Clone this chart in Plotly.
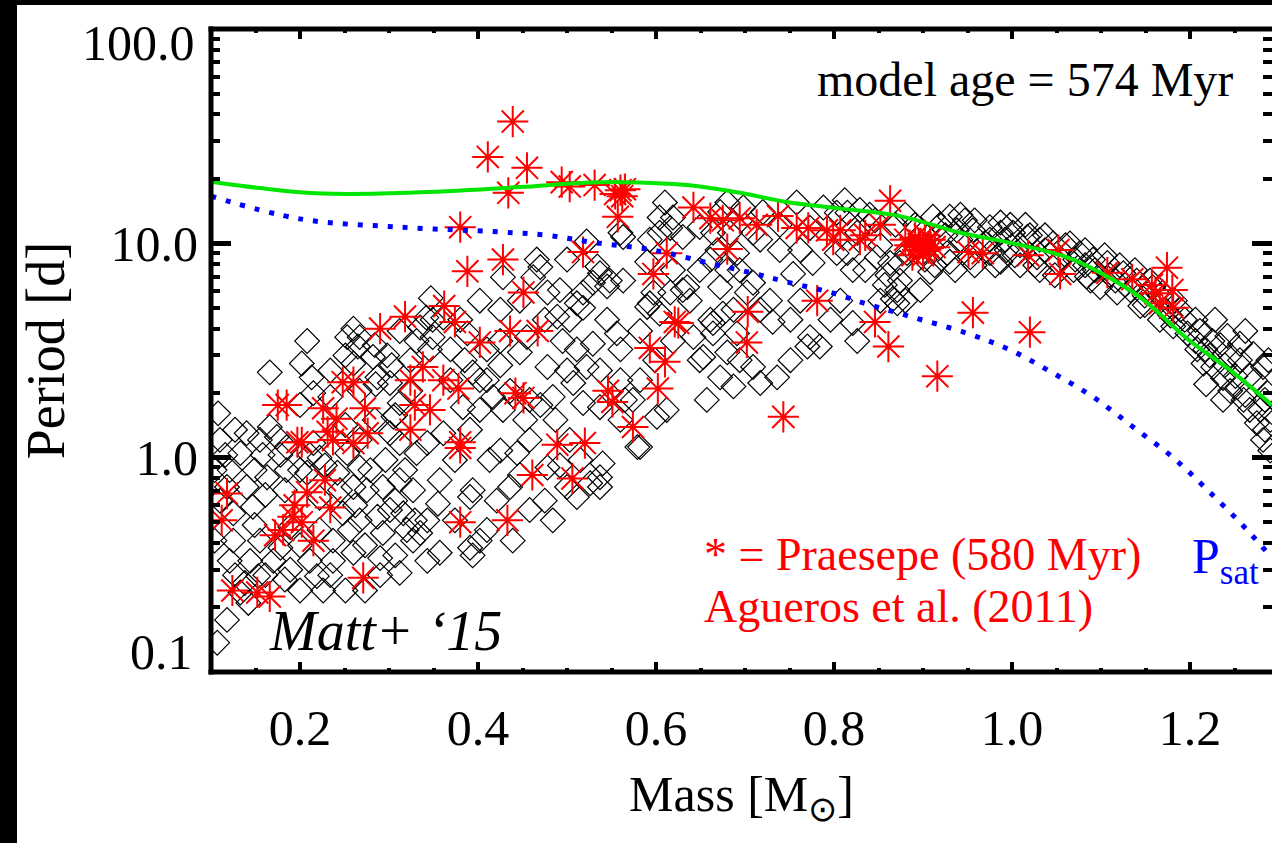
import plotly.graph_objects as go

# ---- model: rotation periods of the synthetic population (black diamonds) ----
model_mass = [
    0.208, 0.166, 0.202, 0.213, 0.253, 0.265, 0.298, 0.303, 0.287, 0.301, 0.324, 0.331, 0.26, 0.215, 0.2,
    0.234, 0.108, 0.14, 0.133, 0.11, 0.166, 0.174, 0.185, 0.215, 0.222, 0.253, 0.267, 0.312, 0.318, 0.331,
    0.301, 0.118, 0.14, 0.163, 0.185, 0.208, 0.222, 0.242, 0.26, 0.275, 0.293, 0.312, 0.327, 0.125, 0.147,
    0.125, 0.121, 0.155, 0.178, 0.17, 0.189, 0.222, 0.237, 0.248, 0.267, 0.287, 0.301, 0.316, 0.32, 0.293,
    0.335, 0.237, 0.26, 0.29, 0.312, 0.219, 0.226, 0.133, 0.327, 0.118, 0.107, 0.138, 0.153, 0.142, 0.2,
    0.189, 0.104, 0.121, 0.158, 0.267, 0.282, 0.285, 0.335, 0.342, 0.349, 0.361, 0.312, 0.305, 0.26, 0.347,
    0.349, 0.369, 0.346, 0.388, 0.41, 0.425, 0.447, 0.455, 0.489, 0.503, 0.518, 0.545, 0.556, 0.529, 0.511,
    0.495, 0.478, 0.5, 0.522, 0.537, 0.56, 0.574, 0.582, 0.537, 0.518, 0.507, 0.484, 0.458, 0.458, 0.428,
    0.41, 0.394, 0.417, 0.402, 0.383, 0.361, 0.343, 0.413, 0.444, 0.478, 0.5, 0.511, 0.537, 0.537, 0.526,
    0.54, 0.421, 0.391, 0.394, 0.355, 0.343, 0.436, 0.484, 0.439, 0.41, 0.391, 0.394, 0.357, 0.343, 0.604,
    0.593, 0.619, 0.642, 0.653, 0.661, 0.664, 0.675, 0.691, 0.68, 0.672, 0.657, 0.687, 0.709, 0.717, 0.736,
    0.731, 0.717, 0.773, 0.784, 0.77, 0.612, 0.601, 0.579, 0.61, 0.604, 0.616, 0.593, 0.59, 0.619, 0.63,
    0.597, 0.56, 0.563, 0.545, 0.529, 0.534, 0.522, 0.5, 0.466, 0.462, 0.478, 0.492, 0.518, 0.428, 0.672,
    0.683, 0.664, 0.698, 0.709, 0.72, 0.758, 0.762, 0.754, 0.776, 0.773, 0.788, 0.803, 0.803, 0.709, 0.702,
    0.672, 0.661, 0.635, 0.691, 0.619, 0.604, 0.563, 0.47, 0.537, 0.548, 0.511, 0.59, 0.616, 0.63, 0.649,
    0.669, 0.68, 0.687, 0.664, 0.68, 0.815, 0.826, 0.815, 0.821, 0.863, 0.874, 0.871, 0.848, 0.911, 0.93,
    0.938, 0.956, 0.975, 0.987, 1.001, 1.017, 1.031, 1.046, 1.065, 1.076, 1.091, 1.107, 1.125, 1.14, 1.158,
    1.174, 0.927, 0.953, 0.975, 0.994, 1.028, 1.051, 1.069, 1.084, 1.099, 1.118, 0.908, 0.897, 0.882, 0.9,
    0.821, 0.826, 0.871, 1.144, 1.166, 1.181, 1.197, 1.208, 1.215, 1.226, 1.237, 1.253, 1.26, 1.267, 1.275,
    1.282, 1.29, 1.256, 1.271, 1.282, 1.287, 1.225, 1.218, 1.237, 0.942, 0.97, 1.009, 1.037, 1.06, 1.082,
    1.11, 1.127, 1.149, 1.189, 1.206, 1.245, 1.267, 1.284, 1.29, 1.228, 1.242, 1.262, 0.919, 0.987, 0.84,
    0.852, 0.835, 0.857, 0.866, 0.852, 0.812, 0.829, 0.846, 0.869, 0.88, 0.942, 0.958, 0.998, 1.02, 0.987,
    1.009, 0.93, 0.913, 1.031, 0.874, 0.86, 0.88,
    # slow-rotator sequence, 0.9 - 1.3 Msun
    0.891, 0.902, 0.925, 0.936, 0.947, 0.958, 0.975, 0.981, 0.992, 1.003, 1.015, 1.026, 1.037, 1.048, 1.06,
    1.071, 1.082, 1.088, 1.093, 1.104, 1.116, 1.121, 1.133, 1.138, 1.149, 1.155, 1.166, 1.172, 1.178, 1.183,
    1.194, 1.206, 1.211, 1.217, 1.222, 1.234, 1.239, 1.251, 1.256, 1.262, 1.273, 1.279, 1.284, 1.288, 1.245,
    # fast rotators, low masses
    0.116, 0.127, 0.149, 0.161, 0.183, 0.2, 0.211, 0.228, 0.245, 0.262, 0.279, 0.296, 0.307, 0.256, 0.273,
    0.2, 0.211, 0.144, 0.161, 0.127, 0.183, 0.104, 0.11, 0.149, 0.234, 0.251, 0.273, 0.29, 0.307, 0.329,
    0.155, 0.178, 0.251, 0.267, 0.284, 0.307, 0.234, 0.251, 0.267, 0.284, 0.312, 0.324,
    # intermediate masses
    0.369, 0.385, 0.402, 0.425, 0.436, 0.453, 0.47, 0.487, 0.503, 0.492, 0.447, 0.425, 0.391, 0.374, 0.357,
    0.374, 0.402, 0.458, 0.475, 0.515, 0.56, 0.565, 0.582, 0.599, 0.56, 0.582, 0.425, 0.447, 0.475, 0.38,
    0.402, 0.638, 0.649, 0.694, 0.728, 0.751, 0.762, 0.796, 0.807, 0.739, 0.717, 0.739, 0.649, 0.694, 0.751,
]
model_period = [
    3.5, 2.5, 2.75, 2.37, 3.65, 3.3, 3.0, 2.7, 2.37, 2.23, 2.85, 3.5, 4.0, 2.0, 1.76,
    1.92, 1.61, 1.3, 1.05, 1.21, 1.39, 1.25, 1.12, 1.17, 1.0, 1.05, 0.9, 1.17, 0.875, 1.05,
    1.3, 0.73, 0.73, 0.81, 0.875, 0.85, 0.65, 0.85, 0.73, 0.705, 0.73, 0.785, 0.705, 0.55, 0.59,
    0.41, 0.33, 0.41, 0.38, 0.33, 0.475, 0.46, 0.41, 0.55, 0.51, 0.53, 0.57, 0.55, 0.46, 0.445,
    0.445, 0.33, 0.36, 0.34, 0.29, 0.28, 0.24, 0.235, 0.41, 0.175, 0.137, 0.26, 0.28, 0.21, 0.24,
    0.3, 0.875, 0.875, 1.03, 3.65, 2.95, 2.2, 4.05, 4.5, 3.65, 4.5, 1.8, 1.55, 2.75, 5.55,
    4.4, 3.2, 3.2, 3.8, 3.2, 3.5, 3.1, 3.65, 4.55, 4.4, 5.0, 4.4, 3.8, 3.4, 3.2,
    3.5, 2.65, 2.55, 2.65, 2.55, 2.3, 1.86, 1.12, 1.72, 1.8, 2.23, 1.92, 1.86, 1.21, 1.67,
    2.3, 2.5, 1.92, 1.67, 1.72, 1.3, 1.17, 0.975, 1.05, 0.9, 0.73, 0.655, 0.81, 0.73, 0.76,
    0.94, 0.63, 0.655, 0.705, 0.61, 0.51, 0.73, 0.51, 0.41, 0.46, 0.38, 0.35, 0.36, 0.33, 4.7,
    5.25, 3.5, 3.65, 2.95, 4.4, 3.8, 4.7, 3.8, 3.1, 2.37, 1.86, 2.15, 2.65, 2.23, 2.37,
    4.3, 4.9, 3.65, 3.3, 3.3, 1.67, 1.55, 1.12, 15.5, 13.2, 11.8, 10.4, 8.2, 7.5, 6.05,
    5.9, 11.2, 6.7, 6.3, 6.55, 7.8, 10.2, 8.4, 8.4, 6.95, 5.9, 6.05, 5.9, 6.95, 14.0,
    11.2, 11.2, 14.7, 11.2, 14.0, 15.5, 9.3, 7.2, 8.1, 11.8, 14.7, 13.9, 9.0, 6.55, 5.9,
    6.25, 8.4, 6.25, 9.0, 13.2, 11.2, 10.7, 7.75, 7.25, 6.7, 5.25, 5.05, 5.9, 10.7, 11.9,
    9.3, 7.5, 4.9, 4.25, 15.5, 13.9, 11.2, 9.0, 7.5, 8.1, 6.7, 6.05, 8.6, 13.3, 13.3,
    11.5, 11.5, 11.9, 11.2, 11.2, 10.7, 10.4, 10.0, 10.0, 9.0, 8.4, 8.1, 7.25, 6.7, 6.25,
    5.6, 9.0, 8.6, 9.0, 9.3, 8.6, 8.1, 7.5, 7.0, 6.25, 5.9, 7.35, 6.05, 9.0, 11.2,
    4.25, 3.5, 5.25, 5.1, 4.4, 4.1, 3.8, 3.2, 2.75, 2.65, 2.35, 2.13, 1.86, 1.67, 1.45,
    1.21, 1.08, 3.4, 3.05, 2.65, 2.0, 3.5, 2.2, 1.86, 10.4, 10.0, 9.8, 9.3, 8.8, 7.9,
    7.1, 6.4, 5.7, 4.9, 4.4, 3.0, 2.4, 1.86, 1.5, 4.4, 3.7, 3.9, 12.2, 12.5, 13.6,
    9.8, 7.5, 6.4, 5.5, 5.4, 15.9, 14.3, 12.8, 12.2, 13.6, 13.6, 12.8, 12.2, 10.9, 8.2,
    7.9, 8.2, 7.9, 7.5, 8.1, 7.1, 5.4,
    # slow-rotator sequence, 0.9 - 1.3 Msun
    12.2, 8.4, 10.9, 7.5, 12.8, 7.9, 10.4, 7.9, 10.4, 8.8, 12.2, 7.9, 10.9, 7.1, 9.8,
    8.4, 9.3, 6.7, 7.5, 8.8, 6.7, 7.9, 6.05, 7.5, 5.15, 6.7, 5.7, 4.9, 4.6, 5.4,
    4.4, 3.5, 3.9, 3.2, 3.0, 3.35, 2.7, 2.4, 2.85, 1.96, 2.3, 1.67, 1.35, 2.85, 2.05,
    # fast rotators, low masses
    1.03, 1.35, 0.875, 0.67, 0.705, 0.875, 1.03, 0.92, 0.705, 0.6, 0.875, 0.975, 0.63, 0.46, 0.39,
    0.39, 0.33, 0.33, 0.283, 0.283, 0.27, 0.41, 0.63, 0.485, 0.283, 0.24, 0.24, 0.283, 0.35, 0.51,
    1.21, 1.03, 1.42, 1.21, 1.5, 1.58, 2.55, 3.0, 2.05, 3.35, 3.9, 2.05,
    # intermediate masses
    2.3, 2.85, 2.3, 2.7, 2.05, 1.5, 1.76, 1.5, 1.21, 0.92, 0.83, 1.08, 1.35, 0.975, 0.785,
    0.51, 0.41, 0.57, 0.63, 0.975, 1.5, 1.86, 2.3, 2.85, 3.2, 3.9, 4.9, 5.4, 4.4, 4.4,
    5.4, 5.4, 7.5, 7.5, 5.4, 4.4, 5.4, 4.4, 5.4, 9.3, 10.4, 12.2, 2.85, 2.85, 2.85,
]

# ---- Praesepe rotation periods, Agueros et al. (2011) (red asterisks) ----
praesepe_mass = [
    0.112, 0.118, 0.124, 0.166, 0.152, 0.172, 0.175, 0.185, 0.181, 0.194, 0.197, 0.202, 0.208, 0.192,
    0.202, 0.215, 0.228, 0.234, 0.226, 0.231, 0.237, 0.241, 0.248, 0.26, 0.26, 0.271, 0.273, 0.276,
    0.29, 0.318, 0.324, 0.324, 0.329, 0.338, 0.346,
    0.439, 0.411, 0.455, 0.434, 0.494, 0.503, 0.531, 0.56, 0.562, 0.554, 0.565, 0.557, 0.38, 0.388,
    0.428, 0.451, 0.518, 0.597, 0.612, 0.642, 0.661, 0.675, 0.694, 0.713, 0.737, 0.758, 0.771, 0.792,
    0.799, 0.68, 0.781, 0.362, 0.374, 0.402, 0.436, 0.467, 0.361, 0.378, 0.38, 0.38, 0.442, 0.451,
    0.546, 0.551, 0.574, 0.489, 0.52, 0.461, 0.506, 0.38, 0.433, 0.621, 0.625, 0.593, 0.61, 0.602,
    0.703, 0.702, 0.743,
    0.863, 0.835, 0.807, 0.88, 0.885, 0.891, 0.894, 0.897, 0.9, 0.902, 0.906, 0.888, 0.908, 0.913,
    0.9, 0.895, 0.951, 0.967, 1.018, 1.052, 1.054, 1.107, 1.135, 1.157, 1.174, 1.18, 1.161, 1.166,
    1.181, 0.846, 0.861, 0.956, 1.02, 0.916, 0.852, 0.829,
]
praesepe_period = [
    0.51, 0.68, 0.24, 0.225, 0.235, 0.435, 1.76, 1.76, 0.46, 0.6, 1.18, 1.18, 0.69, 0.53,
    0.5, 0.41, 0.785, 0.585, 1.7, 1.32, 1.21, 1.52, 2.25, 2.25, 1.17, 0.275, 1.7, 1.3,
    4.0, 4.55, 1.35, 2.3, 1.76, 2.65, 1.67,
    37.0, 25.3, 22.5, 17.2, 19.3, 18.4, 18.7, 17.7, 16.6, 17.0, 17.9, 13.3, 11.9, 7.4,
    8.4, 5.9, 9.1, 7.2, 9.0, 14.7, 13.1, 12.8, 13.1, 12.2, 13.4, 11.8, 11.8, 11.5,
    10.4, 9.4, 5.4, 5.1, 4.3, 3.45, 3.9, 3.9, 2.3, 2.1, 1.18, 1.11, 2.0, 1.9,
    2.05, 1.82, 1.39, 1.15, 1.17, 0.83, 0.8, 0.5, 0.51, 4.3, 4.25, 3.25, 2.8, 2.1,
    4.8, 3.45, 1.55,
    15.8, 10.9, 11.5, 10.4, 9.8, 10.6, 9.3, 10.0, 8.8, 10.9, 9.5, 8.8, 10.4, 9.6,
    9.2, 9.9, 9.1, 9.0, 8.8, 9.3, 7.2, 7.3, 6.8, 6.4, 7.7, 6.05, 5.85, 5.25,
    5.0, 4.3, 3.3, 4.75, 3.85, 2.4, 12.2, 10.4,
]

# ---- slow-rotator envelope of the model (green) ----
upper_mass = [0.1, 0.155, 0.2, 0.253, 0.335, 0.447, 0.515, 0.56, 0.635, 0.691, 0.747, 0.803,
              0.874, 0.942, 1.001, 1.062, 1.099, 1.144, 1.2, 1.245, 1.292]
upper_period = [19.4, 18.1, 17.3, 17.0, 17.3, 18.3, 19.1, 19.3, 18.7, 17.3, 15.6, 14.6,
                13.4, 11.2, 10.0, 8.6, 7.3, 5.6, 3.5, 2.56, 1.76]

# ---- saturation period P_sat (blue dots) ----
sat_mass = [0.1, 0.2, 0.312, 0.425, 0.478, 0.529, 0.597, 0.664, 0.709, 0.747, 0.799, 0.831,
            0.882, 0.949, 0.998, 1.046, 1.091, 1.136, 1.181, 1.222, 1.264, 1.292]
sat_period = [16.6, 13.0, 11.9, 11.3, 10.9, 10.1, 9.3, 8.0, 7.25, 6.6, 5.86, 5.3,
              4.6, 3.81, 3.18, 2.48, 1.92, 1.39, 1.0, 0.69, 0.46, 0.34]

mass_ticks = [0.2, 0.4, 0.6, 0.8, 1.0, 1.2]
mass_labels = ["0.2", "0.4", "0.6", "0.8", "1.0", "1.2"]
mass_minor = [0.15, 0.25, 0.3, 0.35, 0.45, 0.5, 0.55, 0.65, 0.7, 0.75, 0.85, 0.9, 0.95,
              1.05, 1.1, 1.15, 1.25]
period_ticks = [1.0, 10.0]
period_labels = ["1.0", "10.0"]
period_edge_labels = ["100.0", "0.1"]
period_minor = [0.2, 0.3, 0.4, 0.5, 0.6, 0.7, 0.8, 0.9, 2, 3, 4, 5, 6, 7, 8, 9,
                20, 30, 40, 50, 60, 70, 80, 90]

SERIF = "Liberation Serif, Times New Roman, serif"
W, H = 1272, 843
L, R, T, B = 211, 0, 29, 171
PW, PH = W - L - R, H - T - B


def px_x(px):
    return (px - L) / PW


def px_y(py):
    return (H - B - py) / PH


fig = go.Figure()

fig.add_trace(go.Scatter(
    x=model_mass, y=model_period, mode="markers",
    marker=dict(symbol="diamond-open", size=19, color="black", line=dict(width=1.2, color="black")),
    showlegend=False, hoverinfo="skip"))

fig.add_trace(go.Scatter(
    x=praesepe_mass, y=praesepe_period, mode="markers",
    marker=dict(symbol="asterisk-open", size=26, color="#ff0000", line=dict(width=2, color="#ff0000")),
    showlegend=False, hoverinfo="skip"))

fig.add_trace(go.Scatter(
    x=upper_mass, y=upper_period, mode="lines", line_shape="spline",
    line=dict(color="#00e600", width=4), showlegend=False, hoverinfo="skip"))

fig.add_trace(go.Scatter(
    x=sat_mass, y=sat_period, mode="lines", line_shape="spline",
    line=dict(color="#0000ff", width=5, dash="5px,10px"), showlegend=False, hoverinfo="skip"))

axis_common = dict(
    showgrid=False, zeroline=False, showline=False, mirror="ticks",
    ticks="inside", tickcolor="black", layer="above traces",
)

fig.update_xaxes(
    **axis_common,
    range=[0.1, 1.292], tickmode="array", tickvals=mass_ticks, ticktext=mass_labels,
    ticklen=10, tickwidth=4, ticklabelstandoff=22,
    tickfont=dict(family=SERIF, size=50, color="black"),
    minor=dict(tickmode="array", tickvals=mass_minor, ticks="inside", ticklen=4, tickwidth=4,
               tickcolor="black", showgrid=False),
    title=dict(text="Mass [M<sub>⊙</sub>]", font=dict(family=SERIF, size=50, color="black"), standoff=20),
)

fig.update_yaxes(
    **axis_common,
    type="log", range=[-1, 2], tickmode="array", tickvals=period_ticks, ticktext=period_labels,
    ticklen=20, tickwidth=5, ticklabelstandoff=12,
    tickfont=dict(family=SERIF, size=50, color="black"),
    minor=dict(tickmode="array", tickvals=period_minor, ticks="inside", ticklen=9, tickwidth=4,
               tickcolor="black", showgrid=False),
    title=dict(text="Period [d]", font=dict(family=SERIF, size=54, color="black"), standoff=28),
)

shapes = [
    # black frame bands on the left and top edges of the page
    dict(type="rect", xref="paper", yref="paper", x0=px_x(0), x1=px_x(17), y0=px_y(H), y1=px_y(0),
         fillcolor="black", line=dict(width=0), layer="below"),
    dict(type="rect", xref="paper", yref="paper", x0=px_x(0), x1=px_x(W), y0=px_y(5), y1=px_y(0),
         fillcolor="black", line=dict(width=0), layer="below"),
    # plot box: left, top and bottom edges
    dict(type="line", xref="paper", yref="paper", x0=0, x1=0, y0=px_y(H - B + 2.5), y1=px_y(T - 2.5),
         line=dict(color="black", width=5)),
    dict(type="line", xref="paper", yref="paper", x0=px_x(L - 2.5), x1=1, y0=1, y1=1,
         line=dict(color="black", width=5)),
    dict(type="line", xref="paper", yref="paper", x0=px_x(L - 2.5), x1=1, y0=0, y1=0,
         line=dict(color="black", width=5)),
    # blank page corner below the plot, right of the tick labels
    dict(type="rect", xref="paper", yref="paper", x0=px_x(1240), x1=px_x(W + 20), y0=px_y(H + 10),
         y1=px_y(H - B + 6), fillcolor="white", line=dict(width=0), layer="above"),
]

annotations = [
    # end labels of the period axis sit just inside the axis range
    dict(text=period_edge_labels[0], x=px_x(197), y=px_y(43), xanchor="right", yanchor="middle",
         font=dict(family=SERIF, size=50, color="black")),
    dict(text=period_edge_labels[1], x=px_x(195), y=px_y(652), xanchor="right", yanchor="middle",
         font=dict(family=SERIF, size=50, color="black")),
    dict(text="model age = 574 Myr", x=px_x(1235), y=px_y(79), xanchor="right", yanchor="middle",
         font=dict(family=SERIF, size=48, color="black")),
    dict(text="* = Praesepe (580 Myr)", x=px_x(702), y=px_y(554), xanchor="left", yanchor="middle",
         font=dict(family=SERIF, size=46, color="#ff0000")),
    dict(text="Agueros et al. (2011)", x=px_x(702), y=px_y(606), xanchor="left", yanchor="middle",
         font=dict(family=SERIF, size=46, color="#ff0000")),
    dict(text="<i>Matt+ ‘15</i>", x=px_x(267), y=px_y(631), xanchor="left", yanchor="middle",
         font=dict(family=SERIF, size=56, color="black")),
    dict(text="P<sub>sat</sub>", x=px_x(1190), y=px_y(560), xanchor="left", yanchor="middle",
         font=dict(family=SERIF, size=50, color="#0000ff")),
]
for a in annotations:
    a.update(xref="paper", yref="paper", showarrow=False)

fig.update_layout(
    width=W, height=H,
    margin=dict(l=L, r=R, t=T, b=B, pad=0, autoexpand=False),
    paper_bgcolor="white", plot_bgcolor="white",
    shapes=shapes, annotations=annotations,
    showlegend=False,
)

# page set-up: no scrolling, white page behind the figure
page_js = (
    "document.documentElement.style.overflow='hidden';"
    "document.body.style.overflow='hidden';"
    "document.body.style.margin='0';"
    "document.documentElement.style.background='white';"
    "document.body.style.background='white';"
)
fig.write_html("out.html", config=dict(displayModeBar=False), post_script=page_js)
